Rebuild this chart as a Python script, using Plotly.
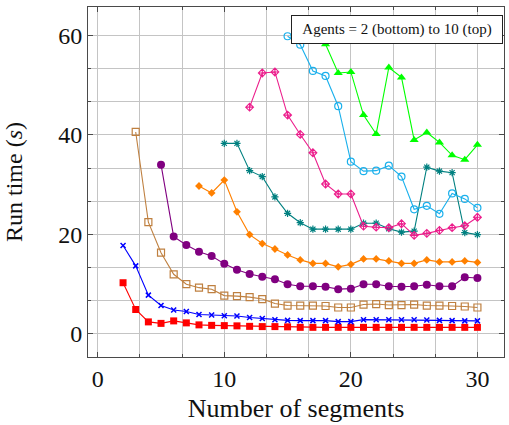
import plotly.graph_objects as go

# Run time (s) versus number of segments, one series per agent count
seg_a2 = list(range(2, 31))
time_a2 = [10.2, 4.8, 2.3, 2.0, 2.5, 2.1, 1.7, 1.6, 1.55, 1.5, 1.4, 1.35, 1.35, 1.3,
           1.2, 1.2, 1.2, 1.2, 1.2, 1.2, 1.2, 1.2, 1.2, 1.2, 1.2, 1.2, 1.2, 1.2, 1.2]

seg_a3 = list(range(2, 31))
time_a3 = [17.7, 13.6, 7.7, 5.6, 4.7, 4.4, 3.8, 3.7, 3.55, 3.5, 3.2, 3.0, 2.75, 2.6,
           2.55, 2.55, 2.55, 2.35, 2.35, 2.75, 2.75, 2.75, 2.75, 2.75, 2.7, 2.6, 2.55, 2.5, 2.5]

seg_a4 = list(range(3, 31))
time_a4 = [40.6, 22.4, 16.25, 11.9, 9.9, 9.2, 8.9, 7.6, 7.5, 7.3, 6.9, 6.0, 5.6,
           5.6, 5.6, 5.5, 5.2, 5.2, 5.8, 5.9, 5.7, 5.7, 5.8, 5.6, 5.6, 5.5, 5.4, 5.2]

seg_a5 = list(range(5, 31))
time_a5 = [34.0, 19.5, 17.8, 16.45, 15.6, 14.0, 12.8, 11.95, 11.4, 10.9, 9.9,
           9.5, 9.5, 9.4, 8.9, 9.0, 9.9, 9.9, 9.5, 9.4, 9.5, 9.8, 9.5, 9.5, 11.3, 11.15]

seg_a6 = list(range(8, 31))
time_a6 = [29.7, 28.3, 30.9, 24.5, 19.9, 18.1, 17.0, 15.8, 14.8, 14.1, 14.1, 13.4,
           13.9, 15.0, 15.0, 14.6, 14.1, 14.1, 14.8, 14.4, 14.4, 14.6, 14.3]

seg_a7 = list(range(10, 31))
time_a7 = [38.3, 38.3, 32.8, 31.6, 27.5, 24.2, 22.3, 21.0, 21.0, 21.0, 21.0, 22.2,
           22.2, 21.1, 20.4, 20.6, 33.5, 32.7, 32.4, 20.3, 19.9]

seg_a8 = list(range(12, 31))
time_a8 = [45.6, 52.5, 52.7, 44.0, 40.1, 36.4, 30.1, 28.1, 28.1, 21.6, 21.4, 21.3,
           22.1, 19.75, 20.15, 20.75, 21.3, 21.7, 23.4]

seg_a9 = list(range(15, 31))
time_a9 = [59.9, 58.2, 52.9, 51.9, 45.8, 34.6, 32.7, 32.8, 33.8, 31.6, 25.0, 25.7,
           24.1, 28.2, 27.1, 25.3]

seg_a10 = list(range(17, 31))
time_a10 = [62.0, 58.3, 52.5, 52.7, 44.0, 40.2, 53.6, 51.6, 39.0, 40.5, 38.5, 35.9,
            35.0, 38.0]

series = [
    (seg_a2, time_a2, "#ff0000", dict(symbol="square", size=7)),
    (seg_a3, time_a3, "#0000ff", dict(symbol="x-thin-open", size=5, line=dict(width=1.5))),
    (seg_a4, time_a4, "#bf8040", dict(symbol="square-open", size=7, line=dict(width=1.2))),
    (seg_a5, time_a5, "#800080", dict(symbol="circle", size=8)),
    (seg_a6, time_a6, "#ff8000", dict(symbol="diamond", size=6)),
    (seg_a7, time_a7, "#008080", dict(symbol="asterisk-open", size=6, line=dict(width=1.2))),
    (seg_a8, time_a8, "#ec1e8c", dict(symbol="diamond-cross-open", size=6, line=dict(width=1.1))),
    (seg_a9, time_a9, "#1ab0ec", dict(symbol="circle-open", size=7, line=dict(width=1.2))),
    (seg_a10, time_a10, "#00ff00", dict(symbol="triangle-up", size=8)),
]

fig = go.Figure()
for xs, ys, col, mk in series:
    marker = dict(color=col, **mk)
    if "line" in marker:
        marker["line"] = dict(color=col, **marker["line"])
    fig.add_trace(go.Scatter(
        x=xs, y=ys, mode="lines+markers",
        line=dict(color=col, width=1.1),
        marker=marker, showlegend=False, cliponaxis=True,
    ))

font_family = "Liberation Serif"
grid_col = "#c4c4c4"
axis_col = "#4a4a4a"

common = dict(
    showline=True, linecolor=axis_col, linewidth=1, mirror="allticks",
    ticks="inside", ticklen=5, tickcolor=axis_col, tickwidth=1,
    showgrid=True, gridcolor=grid_col, gridwidth=1, zeroline=False,
    tickfont=dict(family=font_family, size=24, color="#111"),
)

fig.update_xaxes(
    range=[-0.77, 32.1], tickvals=[0, 10, 20, 30],
    minor=dict(dtick=10 / 3, tick0=0, showgrid=True, gridcolor=grid_col,
               ticks="inside", ticklen=3, tickcolor=axis_col),
    title=dict(text="Number of segments", font=dict(family=font_family, size=26, color="#111"),
               standoff=8),
    **common,
)
fig.update_yaxes(
    range=[-4.78, 65.8], tickvals=[0, 20, 40, 60],
    minor=dict(dtick=20 / 3, tick0=0, showgrid=True, gridcolor=grid_col,
               ticks="inside", ticklen=3, tickcolor=axis_col),
    title=dict(text="Run time (<i>s</i>)", font=dict(family=font_family, size=24, color="#111"),
               standoff=28),
    **common,
)

fig.add_annotation(
    xref="paper", yref="paper", x=0.743, y=0.937, xanchor="center", yanchor="middle",
    text="Agents = 2 (bottom) to 10 (top)", showarrow=False,
    font=dict(family=font_family, size=15, color="#111"),
    bgcolor="white", bordercolor="#222", borderwidth=1, borderpad=5,
    width=200,
)

fig.update_layout(
    width=509, height=425, autosize=False,
    margin=dict(l=88, r=5, t=7, b=68),
    plot_bgcolor="white", paper_bgcolor="white",
)

fig.write_html("out.html")
